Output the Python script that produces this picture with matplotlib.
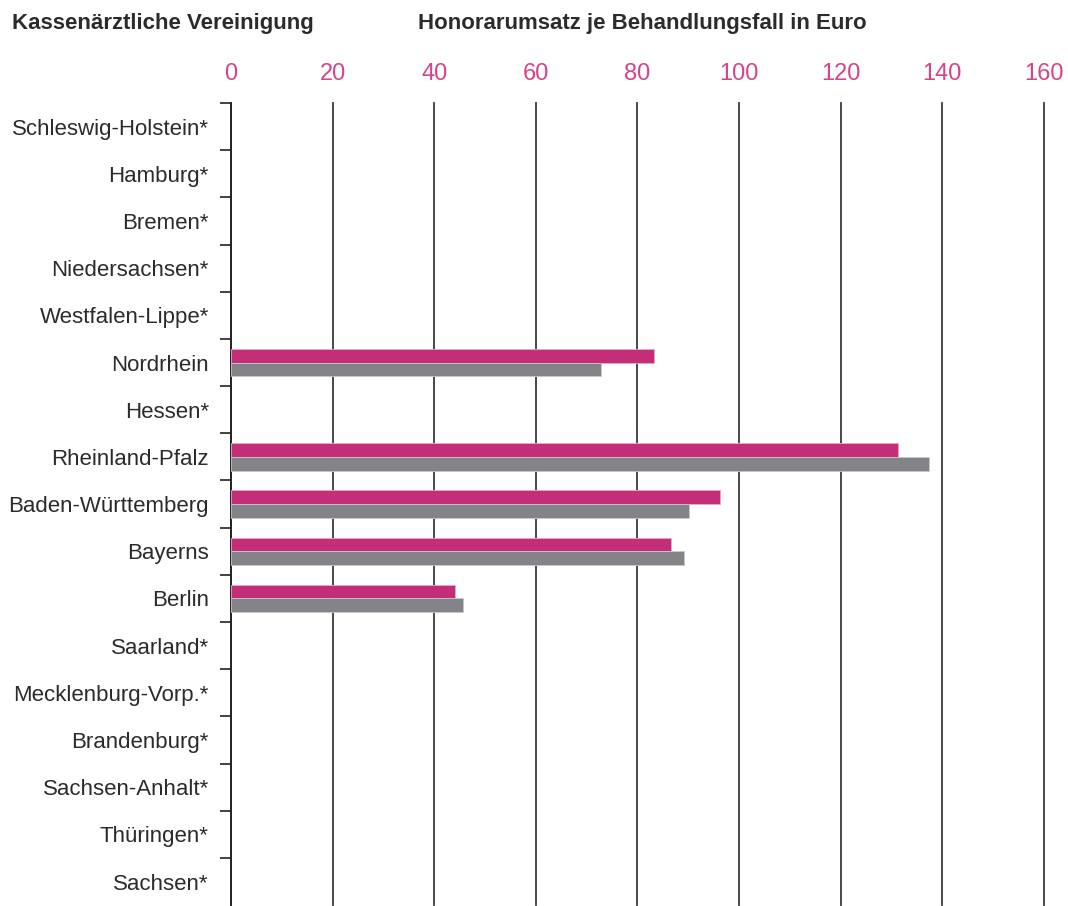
import numpy as np
import matplotlib.pyplot as plt
from matplotlib.ticker import FixedLocator

plt.rcParams['font.family'] = ['Liberation Sans Narrow', 'Liberation Sans', 'DejaVu Sans']

regions = ['Schleswig-Holstein*', 'Hamburg*', 'Bremen*', 'Niedersachsen*', 'Westfalen-Lippe*',
           'Nordrhein', 'Hessen*', 'Rheinland-Pfalz', 'Baden-Württemberg', 'Bayerns', 'Berlin',
           'Saarland*', 'Mecklenburg-Vorp.*', 'Brandenburg*', 'Sachsen-Anhalt*', 'Thüringen*', 'Sachsen*']
# nan = keine Daten
series_a = [np.nan, np.nan, np.nan, np.nan, np.nan, 83.3, np.nan, 131.3, 96.3, 86.6, 44.1,
            np.nan, np.nan, np.nan, np.nan, np.nan, np.nan]
series_b = [np.nan, np.nan, np.nan, np.nan, np.nan, 72.8, np.nan, 137.4, 90.2, 89.2, 45.7,
            np.nan, np.nan, np.nan, np.nan, np.nan, np.nan]
xticks = [0, 20, 40, 60, 80, 100, 120, 140, 160]

magenta = '#c42e78'
grey = '#838488'
label_pink = '#d5438a'

fig = plt.figure(figsize=(10.68, 9.06), dpi=100)
ax = fig.add_axes([0.2163, 0.001, 0.7612, 0.8853])

y = np.arange(len(regions))
a = np.array(series_a)
b = np.array(series_b)
ma = ~np.isnan(a)
mb = ~np.isnan(b)
h = 0.29
ax.barh(y[ma] - h / 2, a[ma], height=h, color=magenta, edgecolor='#e9a9c8', linewidth=0.6, zorder=3)
ax.barh(y[mb] + h / 2, b[mb], height=h, color=grey, edgecolor='#c8c8ca', linewidth=0.6, zorder=3)

ax.set_xlim(0, 160)
ax.set_ylim(len(regions) - 0.5, -0.5)
ax.xaxis.tick_top()
ax.set_xticks(xticks)
ax.set_xticklabels([str(t) for t in xticks], color=label_pink, fontsize=17)
ax.tick_params(axis='x', length=0, pad=13)
ax.grid(axis='x', color='#3a3a3a', linewidth=1.3, zorder=1)
for gl in ax.get_xgridlines():
    gl.set_clip_on(False)

ax.set_yticks(y)
ax.set_yticklabels(regions, fontsize=16, color='#2b2b2b')
ax.tick_params(axis='y', which='major', length=0, pad=16)
ax.yaxis.set_minor_locator(FixedLocator(np.arange(-0.5, len(regions) - 1, 1)))
ax.tick_params(axis='y', which='minor', length=8, width=1.2, color='#222222')

for s in ['top', 'right', 'bottom']:
    ax.spines[s].set_visible(False)
ax.spines['left'].set_linewidth(1.3)
ax.spines['left'].set_color('#222222')

fig.text(12 / 1068, 1 - 24 / 906, 'Kassenärztliche Vereinigung', fontsize=16, fontweight='bold',
         color='#2b2b2b', va='center', ha='left')
fig.text(418 / 1068, 1 - 24 / 906, 'Honorarumsatz je Behandlungsfall in Euro', fontsize=16,
         fontweight='bold', color='#2b2b2b', va='center', ha='left')

fig.savefig('out.png', dpi=100)
